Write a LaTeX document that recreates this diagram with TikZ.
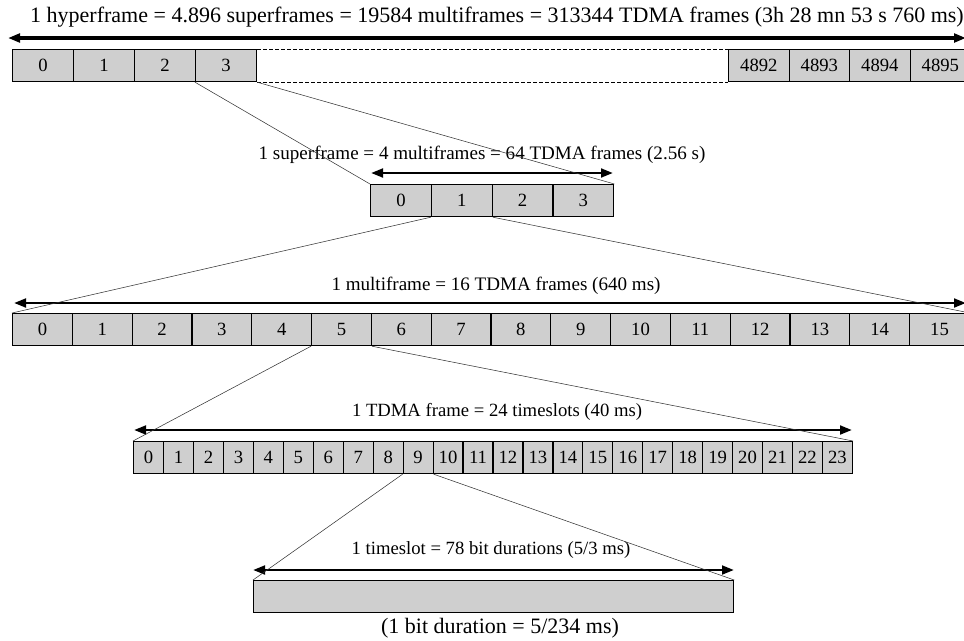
\documentclass[tikz,border=0pt]{standalone}
\usepackage{fontspec}
\setmainfont{Liberation Serif}
\usetikzlibrary{arrows.meta}

\begin{document}
\begin{tikzpicture}[
    x=0.75pt, y=-0.75pt, % pixel-like units, y going down
    >={Triangle[length=9pt,width=6.5pt]},
    line cap=butt,
    cell/.style={draw, line width=0.9pt, fill=cell_color, inner sep=0pt,
        minimum height=24pt, anchor=north west, font=\fontsize{14}{16}\selectfont},
    title/.style={inner sep=0pt, font=\fontsize{14.3}{17}\selectfont},
    dimarrow/.style={<->, line width=2pt},
    zoomline/.style={thin, black!80}
]

% --- 1. SETTINGS & COLORS ---
\definecolor{cell_color}{gray}{0.81}

% --- 2. FRAME ---
\useasboundingbox (0,0) rectangle (964,640);
\clip (0,0) rectangle (964,640);

% --- 3. HYPERFRAME ---
\node[title, font=\fontsize{16.5}{19}\selectfont] (hftxt) at (497,17) {1 hyperframe = 4.896 superframes = 19584 multiframes = 313344 TDMA frames (3h 28 mn 53 s 760 ms)};
\coordinate (hfL) at (8,38);
\coordinate (hfR) at (966,38);
\draw[dimarrow, line width=2.3pt] (hfL) -- (hfR);
\foreach \i in {0,...,3}
    \node[cell, minimum width=45.75pt] (hf\i) at ({12+61*\i},49) {\i};
\foreach \n [count=\k from 0] in {4892,...,4895}
    \node[cell, minimum width=45.4pt] (hf\n) at ({728+60.5*\k},49) {\n};
% the frames in between are left out
\draw[dash pattern=on 3pt off 1.5pt] (hf3.north east) -- (hf4892.north west);
\draw[dash pattern=on 3pt off 1.5pt] (hf3.south east) -- (hf4892.south west);

% --- 4. SUPERFRAME ---
\node[title] (sftxt) at (482,155) {1 superframe = 4 multiframes = 64 TDMA frames (2.56 s)};
\coordinate (sfL) at (371,173);
\coordinate (sfR) at (613,173);
\draw[dimarrow] (sfL) -- (sfR);
\foreach \i in {0,...,3}
    \node[cell, minimum width=45.6pt] (sf\i) at ({370+60.8*\i},184) {\i};

% --- 5. MULTIFRAME ---
\node[title] (mftxt) at (496,286) {1 multiframe = 16 TDMA frames (640 ms)};
\coordinate (mfL) at (14,303);
\coordinate (mfR) at (966,303);
\draw[dimarrow] (mfL) -- (mfR);
\foreach \i in {0,...,15}
    \node[cell, minimum width=44.85pt] (mf\i) at ({12+59.8*\i},313) {\i};

% --- 6. TDMA FRAME ---
\node[title, font=\fontsize{14}{17}\selectfont] (tdtxt) at (497,412) {1 TDMA frame = 24 timeslots (40 ms)};
\coordinate (tdL) at (134,430);
\coordinate (tdR) at (852,430);
\draw[dimarrow] (tdL) -- (tdR);
\foreach \i in {0,...,23}
    \node[cell, minimum width=22.46pt] (td\i) at ({133+29.95*\i},441) {\i};

% --- 7. TIMESLOT ---
\node[title, font=\fontsize{14}{17}\selectfont] (tstxt) at (491,550) {1 timeslot = 78 bit durations (5/3 ms)};
\coordinate (tsL) at (253,570);
\coordinate (tsR) at (734,570);
\draw[dimarrow] (tsL) -- (tsR);
\node[cell, minimum width=360pt] (slot) at (253,580) {};
\node[title, font=\fontsize{16.5}{19}\selectfont] (bittxt) at (500,628) {(1 bit duration = 5/234 ms)};

% --- 8. ZOOM LINES ---
\draw[zoomline] (hf3.south west) -- (sf0.north west);
\draw[zoomline] (hf3.south east) -- (sf3.north east);
\draw[zoomline] (sf1.south west) -- (mf0.north west);
\draw[zoomline] (sf1.south east) -- (mf15.north east);
\draw[zoomline] (mf5.south west) -- (td0.north west);
\draw[zoomline] (mf5.south east) -- (td23.north east);
\draw[zoomline] (td9.south west) -- (slot.north west);
\draw[zoomline] (td9.south east) -- (slot.north east);

\end{tikzpicture}
\end{document}
